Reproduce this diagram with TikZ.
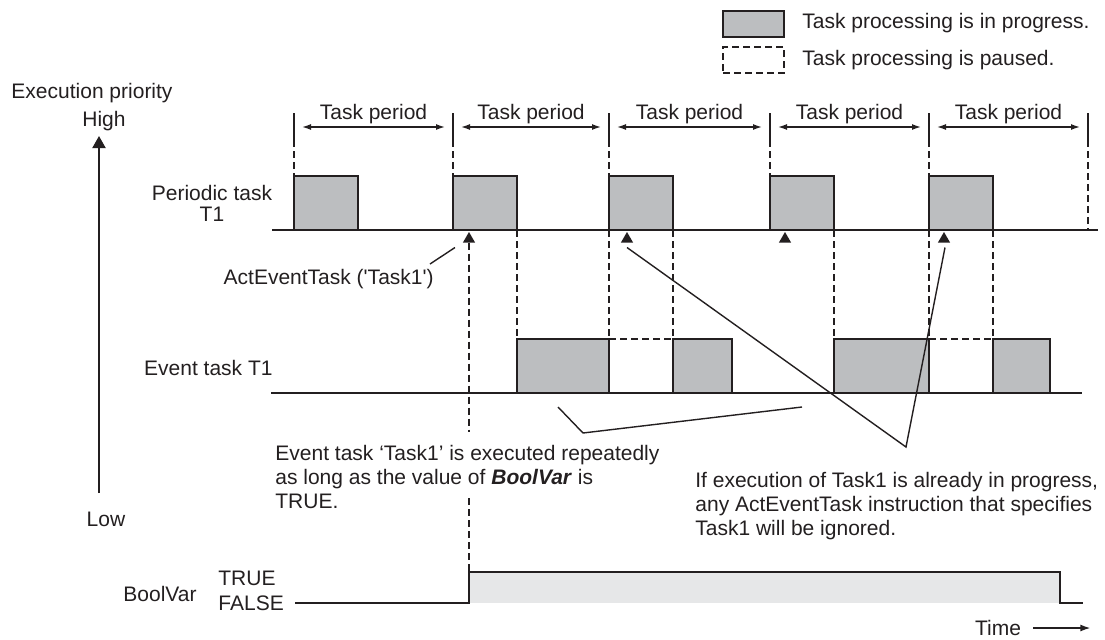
\documentclass[tikz,border=0pt]{standalone}
\usepackage{fontspec}
\setmainfont{Liberation Sans}[Ligatures=TeXOff]
\usetikzlibrary{
  shapes.geometric,
  arrows.meta,
  positioning,
  calc
}
\definecolor{inkcolor}{RGB}{35, 31, 32}
\definecolor{runcolor}{RGB}{188, 190, 192}
\definecolor{truecolor}{RGB}{230, 231, 232}
\tikzset{
labeltext/.style={
  font=\fontsize{10.5}{12}\selectfont,
  text=inkcolor,
  inner sep=0pt
},
runblock/.style={
  draw=inkcolor,
  fill=runcolor,
  line width=1pt,
  inner sep=0pt,
  outer sep=0pt,
  anchor=south west,
  minimum height=27pt
},
pauseline/.style={
  draw=inkcolor,
  line width=0.75pt,
  dash pattern=on 3.5pt off 2pt
},
pauseblock/.style={
  pauseline,
  inner sep=0pt,
  outer sep=0pt,
  minimum width=30.5pt,
  minimum height=13pt
},
axisline/.style={
  draw=inkcolor,
  line width=1pt
},
tickline/.style={
  draw=inkcolor,
  line width=0.6pt
},
leader/.style={
  draw=inkcolor,
  line width=0.7pt
},
periodarrow/.style={
  {Latex[length=4.5pt,width=3pt]}-{Latex[length=4.5pt,width=3pt]},
  line width=0.7pt,
  draw=inkcolor
},
arrow/.style={
  -{Latex[length=5pt,width=3.5pt]},
  line width=0.7pt,
  draw=inkcolor
},
priorityarrow/.style={
  -{Triangle[length=6pt,width=6.5pt]},
  line width=1pt,
  draw=inkcolor
},
trigger/.style={
  regular polygon,
  regular polygon sides=3,
  fill=inkcolor,
  inner sep=0pt,
  outer sep=0pt,
  minimum size=7pt
}
}

\begin{document}
\begin{tikzpicture}[x=0.5pt,y=-0.5pt]
\useasboundingbox (0,0) rectangle (1105,639);

% legend
\node[runblock, anchor=center, minimum width=30.5pt, minimum height=13pt] (runkey) at (753.5,23.5) {};
\node[pauseblock] (pausekey) at (753.5,60) {};
\node[labeltext, right=9pt of runkey] (runtext) {Task processing is in progress.};
\node[labeltext, right=9pt of pausekey] (pausetext) {Task processing is paused.};

% priority axis
\node[labeltext] (execprio) at (92,93) {Execution priority};
\node[labeltext] (high) at (104,121) {High};
\node[labeltext] (low) at (106,519) {Low};
\coordinate (axisbot) at (99,493);
\coordinate (axistop) at (99,136);
\draw[priorityarrow] (axisbot) -- (axistop);

% row labels
\node[labeltext, align=center] (periodic) at (212,203) {Periodic task\\[-1.5pt]T1};
\node[labeltext, anchor=east] (eventlbl) at (273,368) {Event task T1};
\node[labeltext, anchor=east] (act) at (434,279) {ActEventTask ('Task1')};

% time lines
\coordinate (pstart) at (272,230);
\coordinate (pend) at (1098,230);
\coordinate (estart) at (271,393);
\coordinate (eend) at (1082,393);
\draw[axisline] (pstart) -- (pend);
\draw[axisline] (estart) -- (eend);

% task periods
\foreach \n/\x in {0/294,1/453,2/609,3/770,4/929,5/1088}{
  \coordinate (t\n) at (\x,113);
  \draw[tickline] (t\n) -- ++(0,27);
}
\foreach \n/\m in {0/1,1/2,2/3,3/4,4/5}{
  \draw[periodarrow] ($(t\n)+(8,14)$) -- ($(t\m)+(-8,14)$)
    node[labeltext, midway, yshift=6.5pt] {Task period};
}

% periodic task
\foreach \n/\x in {1/294,2/453,3/609,4/770,5/929}
  \node[runblock, minimum width=32pt] (p\n) at (\x,230) {};
\foreach \n/\m in {0/1,1/2,2/3,3/4,4/5}
  \draw[pauseline] ($(t\n)+(0,27)$) -- (p\m.north west);
\draw[pauseline] ($(t5)+(0,27)$) -- (t5 |- pend);

% event task
\foreach \n/\x/\w in {1/517/92,2/673/59,3/834/95,4/993/57}
  \node[runblock, minimum width=0.5pt*\w] (e\n) at (\x,393) {};
\draw[pauseline] (p2.south east) -- (e1.north west);
\draw[pauseline] (p3.south west) -- (e1.north east);
\draw[pauseline] (p3.south east) -- (e2.north west);
\draw[pauseline] (p4.south east) -- (e3.north west);
\draw[pauseline] (p5.south west) -- (e3.north east);
\draw[pauseline] (p5.south east) -- (e4.north west);
\draw[pauseline] (e1.north east) -- (e2.north west);
\draw[pauseline] (e3.north east) -- (e4.north west);

% ActEventTask calls
\foreach \n/\x in {1/469,2/627,3/785,4/944}
  \node[trigger] (tr\n) at (\x,239) {};
\coordinate (gaptop) at (469,432);
\coordinate (gapbot) at (469,498);
\coordinate (rise) at (469,572);
\draw[pauseline] (tr1.south) -- (gaptop);
\draw[pauseline] (gapbot) -- (rise);
\draw[leader] ($(act.east)+(-4,-15)$) -- ($(tr1.south)+(-14,5)$);

% notes
\coordinate (vtip) at (906,447);
\draw[leader] ($(tr2.south)+(0,5)$) -- (vtip) -- ($(tr4.south)+(1,5)$);
\coordinate (brl) at (558,407);
\coordinate (brv) at (583,433);
\coordinate (brr) at (802,407);
\draw[leader] (brl) -- (brv) -- (brr);
\node[labeltext, anchor=north west, align=left] (repeatnote) at (275,445)
  {Event task ‘Task1’ is executed repeatedly\\as long as the value of \textbf{\textit{BoolVar}} is\\TRUE.};
\node[labeltext, anchor=north west, align=left] (ignorenote) at (695,472)
  {If execution of Task1 is already in progress,\\any ActEventTask instruction that specifies\\Task1 will be ignored.};

% BoolVar
\node[labeltext] (boolvar) at (160,594) {BoolVar};
\node[labeltext, anchor=west] (truelbl) at (218,578) {TRUE};
\node[labeltext, anchor=west] (falselbl) at (218,603) {FALSE};
\coordinate (fall) at (1060,572);
\coordinate (lowstart) at (295,603);
\coordinate (lowend) at (1083,603);
\fill[truecolor] (rise) rectangle (fall |- lowend);
\draw[axisline] (lowstart) -- (rise |- lowstart) -- (rise) -- (fall) -- (fall |- lowend) -- (lowend);

% time
\node[labeltext] (time) at (998,628) {Time};
\draw[arrow] ([xshift=6pt]time.east) -- ++(57,0);
\end{tikzpicture}
\end{document}
